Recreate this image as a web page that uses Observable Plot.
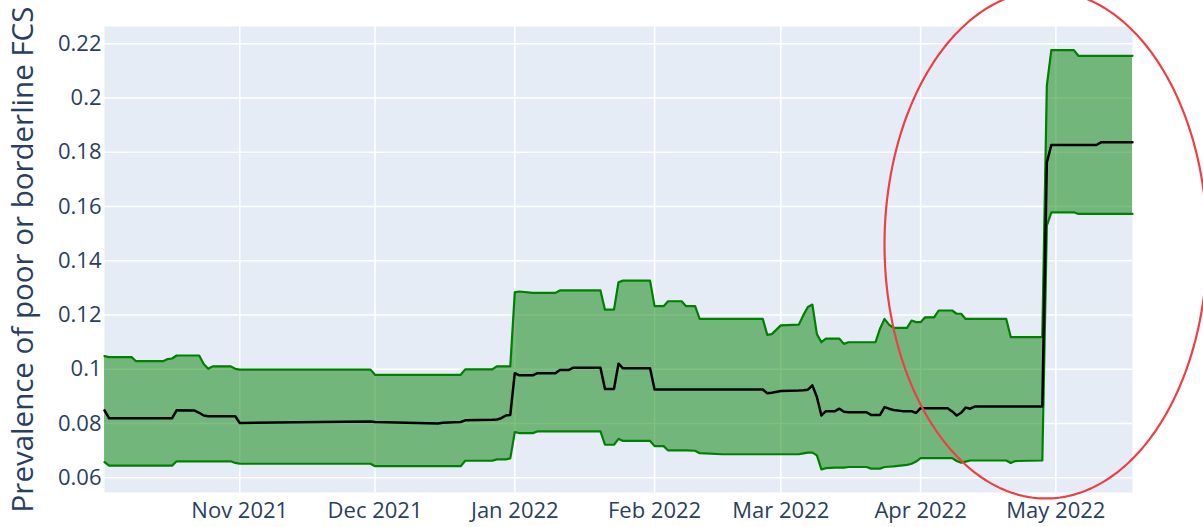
<!DOCTYPE html>
<html><head><meta charset="utf-8">
<script src="https://cdn.jsdelivr.net/npm/d3@7"></script>
<script src="https://cdn.jsdelivr.net/npm/@observablehq/plot@0.6"></script>
<style>html,body{margin:0;padding:0;background:#fff;}</style>
</head><body><div id="chart"></div>
<script>
const dates = ["2021-10-02","2021-10-03","2021-10-08","2021-10-09","2021-10-15","2021-10-16","2021-10-17","2021-10-18","2021-10-22","2021-10-23","2021-10-24","2021-10-25","2021-10-26","2021-10-30","2021-10-31","2021-11-01","2021-11-19","2021-11-30","2021-12-01","2021-12-15","2021-12-16","2021-12-20","2021-12-21","2021-12-27","2021-12-28","2021-12-29","2021-12-30","2021-12-31","2022-01-01","2022-01-02","2022-01-05","2022-01-06","2022-01-10","2022-01-11","2022-01-13","2022-01-14","2022-01-20","2022-01-21","2022-01-23","2022-01-24","2022-01-25","2022-01-31","2022-02-01","2022-02-03","2022-02-04","2022-02-07","2022-02-08","2022-02-10","2022-02-11","2022-02-16","2022-02-25","2022-02-26","2022-02-27","2022-03-01","2022-03-05","2022-03-06","2022-03-07","2022-03-08","2022-03-09","2022-03-10","2022-03-11","2022-03-13","2022-03-14","2022-03-15","2022-03-16","2022-03-20","2022-03-21","2022-03-22","2022-03-23","2022-03-24","2022-03-25","2022-03-26","2022-03-28","2022-03-29","2022-03-30","2022-03-31","2022-04-01","2022-04-02","2022-04-04","2022-04-05","2022-04-07","2022-04-08","2022-04-09","2022-04-10","2022-04-11","2022-04-12","2022-04-13","2022-04-20","2022-04-21","2022-04-22","2022-04-28","2022-04-29","2022-04-30","2022-05-05","2022-05-06","2022-05-10","2022-05-11","2022-05-18"];
const upper = [0.1049,0.1045,0.1045,0.1030,0.1030,0.1038,0.1040,0.1051,0.1051,0.1051,0.1020,0.1002,0.1011,0.1011,0.1002,0.0999,0.0999,0.0999,0.0980,0.0980,0.0980,0.0980,0.1000,0.1000,0.1011,0.1011,0.1011,0.1011,0.1284,0.1287,0.1282,0.1282,0.1282,0.1291,0.1291,0.1291,0.1291,0.1220,0.1220,0.1321,0.1327,0.1327,0.1233,0.1233,0.1251,0.1251,0.1233,0.1233,0.1186,0.1186,0.1186,0.1127,0.1130,0.1162,0.1165,0.1200,0.1230,0.1239,0.1130,0.1100,0.1113,0.1113,0.1113,0.1094,0.1100,0.1100,0.1100,0.1100,0.1150,0.1186,0.1165,0.1153,0.1153,0.1153,0.1180,0.1174,0.1174,0.1192,0.1192,0.1217,0.1217,0.1217,0.1205,0.1205,0.1186,0.1186,0.1186,0.1186,0.1119,0.1119,0.1119,0.2046,0.2177,0.2177,0.2156,0.2156,0.2156,0.2156];
const mean = [0.0849,0.0820,0.0820,0.0820,0.0820,0.0820,0.0820,0.0849,0.0848,0.0840,0.0830,0.0827,0.0827,0.0827,0.0827,0.0802,0.0806,0.0808,0.0806,0.0800,0.0803,0.0806,0.0812,0.0814,0.0815,0.0820,0.0830,0.0832,0.0986,0.0978,0.0978,0.0986,0.0986,0.0998,0.0998,0.1006,0.1006,0.0928,0.0928,0.1021,0.1004,0.1004,0.0926,0.0926,0.0926,0.0926,0.0926,0.0926,0.0926,0.0926,0.0926,0.0912,0.0914,0.0920,0.0922,0.0923,0.0925,0.0941,0.0898,0.0830,0.0846,0.0846,0.0855,0.0844,0.0842,0.0842,0.0832,0.0832,0.0832,0.0861,0.0855,0.0850,0.0846,0.0846,0.0846,0.0839,0.0857,0.0857,0.0857,0.0857,0.0857,0.0845,0.0830,0.0840,0.0859,0.0855,0.0863,0.0863,0.0863,0.0863,0.0863,0.1763,0.1827,0.1827,0.1827,0.1827,0.1837,0.1837];
const lower = [0.0658,0.0645,0.0645,0.0645,0.0645,0.0645,0.0645,0.0661,0.0661,0.0661,0.0661,0.0661,0.0661,0.0661,0.0655,0.0652,0.0652,0.0652,0.0643,0.0643,0.0643,0.0643,0.0663,0.0663,0.0668,0.0668,0.0668,0.0672,0.0769,0.0765,0.0765,0.0771,0.0771,0.0771,0.0771,0.0771,0.0771,0.0722,0.0722,0.0744,0.0736,0.0736,0.0717,0.0717,0.0701,0.0701,0.0701,0.0700,0.0691,0.0687,0.0687,0.0687,0.0687,0.0687,0.0687,0.0690,0.0693,0.0693,0.0683,0.0631,0.0636,0.0638,0.0638,0.0638,0.0640,0.0640,0.0634,0.0634,0.0634,0.0640,0.0641,0.0642,0.0646,0.0648,0.0652,0.0660,0.0673,0.0673,0.0673,0.0673,0.0673,0.0673,0.0662,0.0656,0.0660,0.0664,0.0664,0.0664,0.0655,0.0662,0.0664,0.1530,0.1579,0.1579,0.1573,0.1573,0.1573,0.1573];

const xTickDates = ["2021-11-01","2021-12-01","2022-01-01","2022-02-01","2022-03-01","2022-04-01","2022-05-01"];
const xTickLabels = ["Nov 2021","Dec 2021","Jan 2022","Feb 2022","Mar 2022","Apr 2022","May 2022"];
const yTicks = [0.06,0.08,0.1,0.12,0.14,0.16,0.18,0.2,0.22];
const yTickLabels = ["0.06","0.08","0.1","0.12","0.14","0.16","0.18","0.2","0.22"];
const yTitle = "Prevalence of poor or borderline FCS";
const xDomain = ["2021-10-02","2022-05-18"];
const yDomain = [0.0546,0.2264];
// annotation ellipse bounds (data coordinates, like a Plotly "circle" shape)
const ellipseX = ["2022-03-24","2022-06-03T14:00"];
const ellipseY = [0.0524,0.2396];

const rows = dates.map((d,i)=>({date:new Date(d), upper:upper[i], mean:mean[i], lower:lower[i]}));
const xt = xTickDates.map(d=>new Date(d));

const ex0 = +new Date(ellipseX[0]), ex1 = +new Date(ellipseX[1]);
const ecx = (ex0+ex1)/2, erx = (ex1-ex0)/2;
const ecy = (ellipseY[0]+ellipseY[1])/2, ery = (ellipseY[1]-ellipseY[0])/2;
const ellipsePts = d3.range(0, 361).map(a=>{
  const t = a*Math.PI/180;
  return {x:new Date(ecx + erx*Math.cos(t)), y: ecy + ery*Math.sin(t)};
});

const chart = Plot.plot({
  width:1203, height:527,
  marginLeft:104, marginRight:71, marginTop:26, marginBottom:35,
  style:{fontFamily:"'Open Sans', sans-serif", color:"#2a3f5f", background:"white", overflow:"visible"},
  x:{type:"utc", domain:xDomain.map(d=>new Date(d))},
  y:{domain:yDomain},
  marks:[
    Plot.frame({fill:"#E5ECF6", stroke:"none"}),
    Plot.gridX(xt, {stroke:"white", strokeOpacity:1, strokeWidth:1.5}),
    Plot.gridY(yTicks, {stroke:"white", strokeOpacity:1, strokeWidth:1.5}),
    Plot.areaY(rows, {x:"date", y1:"lower", y2:"upper", fill:"green", fillOpacity:0.5}),
    Plot.lineY(rows, {x:"date", y:"lower", stroke:"green", strokeWidth:2.2}),
    Plot.lineY(rows, {x:"date", y:"upper", stroke:"green", strokeWidth:2.2}),
    Plot.lineY(rows, {x:"date", y:"mean", stroke:"black", strokeWidth:2.5}),
    Plot.axisX(xt, {tickSize:0, tickPadding:10, fontSize:22, label:null,
      tickFormat:d=>xTickLabels[xt.findIndex(t=>+t===+d)]}),
    Plot.axisY(yTicks, {tickSize:0, tickPadding:3, fontSize:22, label:null,
      tickFormat:d=>yTickLabels[yTicks.indexOf(d)]}),
    Plot.text([yTitle], {frameAnchor:"left", textAnchor:"middle", rotate:-90, dx:-81, fontSize:29.5, fill:"#2a3f5f", text:d=>d}),
    Plot.line(ellipsePts, {x:"x", y:"y", stroke:"#ee3f47", strokeWidth:2.2})
  ]
});
document.getElementById("chart").appendChild(chart);
</script>
</body></html>
